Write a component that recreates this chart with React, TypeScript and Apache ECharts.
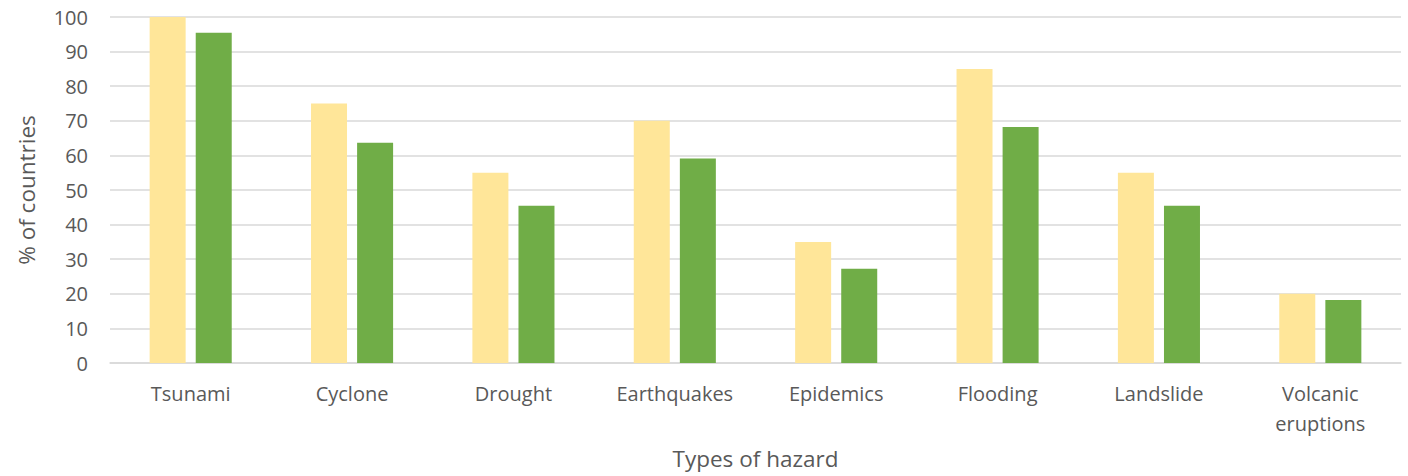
import React, { useEffect, useRef } from "react";
import * as echarts from "echarts";

const categories = [
  "Tsunami",
  "Cyclone",
  "Drought",
  "Earthquakes",
  "Epidemics",
  "Flooding",
  "Landslide",
  "Volcanic\neruptions",
];

// Share of countries (%) per hazard type, two groups
const seriesA = [100, 75, 55, 70, 35, 85, 55, 20];
const seriesB = [95.45, 63.64, 45.45, 59.09, 27.27, 68.18, 45.45, 18.18];

const yTicks = { min: 0, max: 100, interval: 10 };

const FONT = "'Open Sans', sans-serif";
const TEXT = "#595959";

export default function App() {
  const ref = useRef<HTMLDivElement>(null);

  useEffect(() => {
    if (!ref.current) return;
    const chart = echarts.init(ref.current, undefined, { renderer: "svg" });
    chart.setOption({
      animation: false,
      backgroundColor: "#ffffff",
      grid: { left: 110, right: 7, top: 17, bottom: 113, containLabel: false },
      xAxis: {
        type: "category",
        data: categories,
        name: "Types of hazard",
        nameLocation: "middle",
        nameGap: 84,
        nameTextStyle: { fontFamily: FONT, fontSize: 22.5, color: TEXT },
        axisLine: { show: true, lineStyle: { color: "#d9d9d9", width: 1.5 } },
        axisTick: { show: false },
        axisLabel: {
          fontFamily: FONT,
          fontSize: 20,
          color: TEXT,
          margin: 15,
          lineHeight: 30,
          interval: 0,
        },
      },
      yAxis: {
        type: "value",
        min: yTicks.min,
        max: yTicks.max,
        interval: yTicks.interval,
        name: "% of countries",
        nameLocation: "middle",
        nameGap: 72,
        nameTextStyle: { fontFamily: FONT, fontSize: 22.5, color: TEXT },
        axisLine: { show: false },
        axisTick: { show: false },
        axisLabel: { fontFamily: FONT, fontSize: 20, color: TEXT, margin: 22 },
        splitLine: { lineStyle: { color: "#d9d9d9", width: 1.5 } },
      },
      series: [
        {
          type: "bar",
          data: seriesA,
          barWidth: 36,
          barGap: "28%",
          itemStyle: { color: "#ffe699" },
        },
        {
          type: "bar",
          data: seriesB,
          barWidth: 36,
          barGap: "28%",
          itemStyle: { color: "#70ad47" },
        },
      ],
    });
    return () => chart.dispose();
  }, []);

  return (
    <div
      ref={ref}
      style={{ position: "absolute", left: 0, top: 0, width: 1408, height: 476 }}
    />
  );
}
